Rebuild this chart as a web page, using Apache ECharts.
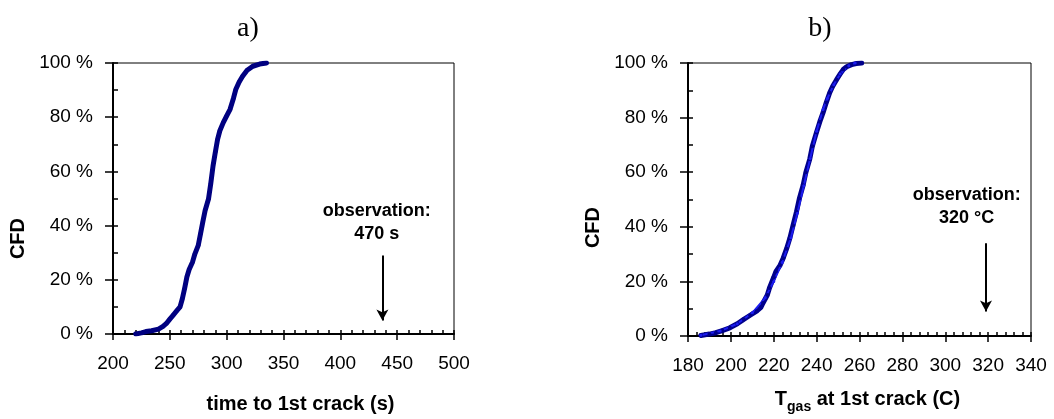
<!DOCTYPE html>
<html><head><meta charset="utf-8">
<script src="https://cdn.jsdelivr.net/npm/echarts@6/dist/echarts.min.js"></script>
<style>html,body{margin:0;padding:0;background:#fff}#c{width:1054px;height:419px}</style>
</head><body><div id="c"></div>
<script>
// Panel a: time to 1st crack (s) vs CFD (%)
const aTime = [220,225,229,234,240,244,247,250,253,256,259,261,263,265,267,270,272,275,277,279,281,284,286,288,290,292,294,297,300,303,306,308,311,314,318,323,329,335];
const aCfd  = [0,0.4,0.9,1.2,1.8,2.8,3.9,5.5,7,8.5,10,13,16.8,21,23.8,26.6,29.5,32.7,37,41.3,45.5,49.8,55.5,62,67,71.8,75,78,80.5,82.9,87,90.2,93,95.1,97.3,98.8,99.6,100];
// Panel b: Tgas at 1st crack (C) vs CFD (%) - two overlapping samples
const bTgas1 = [186,190,193,196,199.5,203,206,209,212,214,215,217,218,220,221,223,224.4,226,227.5,229,230.6,232,233.7,235,236.8,238,239.9,241.5,243,244.5,246.1,247.5,249.3,251,252.4,254,256.3,258.5,261];
const bCfd1  = [0.2,0.7,1.2,2,3,4.5,6.1,7.6,9.1,10.5,12.1,15,17.6,21.5,23.6,26,28.5,32,35.8,40.5,45.5,50.5,55.2,60,64.8,69.5,74.5,78.5,81.8,85.5,89.1,91.5,93.9,96,97.6,98.6,99.4,99.8,100];
const bTgas2 = [186,195,203,210,216,220,224,228,231,234,237,240,243,245,248,251,255,258];
const bCfd2  = [0.3,1.8,4.5,8.5,14,20,27,36,45,55,65,75,83,87,92,96,99,100];
// Observations
const obsA = {x: 437, yTop: 29, yBottom: 5, label: 'observation:\n470 s', labelX: 432, labelY: 41};
const obsB = {x: 319, yTop: 34, yBottom: 9, label: 'observation:\n320 °C', labelX: 310, labelY: 47.5};
const titles = ['a)', 'b)'];
const yTicks = {min: 0, max: 100, interval: 20};
const xTicksA = {min: 200, max: 500, interval: 50};
const xTicksB = {min: 180, max: 340, interval: 20};

const zip = (xs, ys) => xs.map((x, i) => [x, ys[i]]);
const F = 'Liberation Sans, Arial, sans-serif';

function xAxes(grid, t, name, nameStyle, nameGap) {
  return [
    {type: 'value', gridIndex: grid, position: 'bottom', min: t.min, max: t.max, interval: t.interval,
     axisLine: {show: true, onZero: false, lineStyle: {color: '#000', width: 2}},
     axisTick: {show: true, inside: false, length: 6, lineStyle: {color: '#000', width: 1.5}},
     axisLabel: {margin: 20, color: '#000', fontSize: 19, fontFamily: F},
     splitLine: {show: false},
     name: name, nameLocation: 'middle', nameGap: nameGap, nameTextStyle: nameStyle},
    {type: 'value', gridIndex: grid, position: 'bottom', min: t.min, max: t.max, interval: t.interval,
     axisLine: {show: false, onZero: false},
     axisTick: {show: true, inside: true, length: 4, lineStyle: {color: '#000', width: 1.5}},
     minorTick: {show: true, splitNumber: 5, length: 4, lineStyle: {color: '#000', width: 1.5}},
     axisLabel: {show: false}, splitLine: {show: false}}
  ];
}
function yAxes(grid) {
  return [
    {type: 'value', gridIndex: grid, position: 'left', min: yTicks.min, max: yTicks.max, interval: yTicks.interval,
     axisLine: {show: true, onZero: false, lineStyle: {color: '#000', width: 2}},
     axisTick: {show: true, inside: false, length: 8, lineStyle: {color: '#000', width: 1.5}},
     axisLabel: {margin: 20, color: '#000', fontSize: 19, fontFamily: F, formatter: '{value} %'},
     splitLine: {show: false}},
    {type: 'value', gridIndex: grid, position: 'left', min: yTicks.min, max: yTicks.max, interval: yTicks.interval,
     axisLine: {show: false, onZero: false},
     axisTick: {show: true, inside: true, length: 5, lineStyle: {color: '#000', width: 1.5}},
     minorTick: {show: true, splitNumber: 2, length: 5, lineStyle: {color: '#000', width: 1.5}},
     axisLabel: {show: false}, splitLine: {show: false}}
  ];
}
function curve(data, xi, yi, color, w, sym) {
  return {type: 'line', xAxisIndex: xi, yAxisIndex: yi, data: data, smooth: false,
    symbol: 'circle', symbolSize: sym, showSymbol: true,
    itemStyle: {color: color}, lineStyle: {color: color, width: w, join: 'round', cap: 'round'}, z: 3};
}
function arrow(obs, xi, yi) {
  return {type: 'line', xAxisIndex: xi, yAxisIndex: yi, data: [], silent: true,
    markLine: {silent: true, symbol: ['none', 'arrow'], symbolSize: [9, 11],
      lineStyle: {color: '#000', width: 2, type: 'solid'}, label: {show: false},
      data: [[{coord: [obs.x, obs.yTop]}, {coord: [obs.x, obs.yBottom]}]]}};
}
function note(obs, xi, yi) {
  return {type: 'scatter', xAxisIndex: xi, yAxisIndex: yi, symbolSize: 0, silent: true,
    data: [[obs.labelX, obs.labelY]],
    label: {show: true, position: 'inside', formatter: obs.label, color: '#000', opacity: 1,
      textBorderWidth: 0, textShadowBlur: 0,
      fontSize: 18, fontWeight: 'bold', fontFamily: F, lineHeight: 23, align: 'center'}};
}

const nameA = {color: '#000', fontSize: 20, fontWeight: 'bold', fontFamily: F, padding: [0, 0, 0, 34]};
const nameB = {color: '#000', fontSize: 20, fontWeight: 'bold', fontFamily: F, padding: [0, 0, 0, 16],
  rich: {m: {fontSize: 20, fontWeight: 'bold', fontFamily: F, color: '#000', verticalAlign: 'bottom', padding: [0, 0, 5, 0]},
         s: {fontSize: 14, fontWeight: 'bold', fontFamily: F, color: '#000', verticalAlign: 'bottom'}}};

const option = {
  animation: false,
  backgroundColor: '#fff',
  title: [
    {text: titles[0], left: 243, top: 10, textAlign: 'center', textStyle: {fontFamily: 'Liberation Serif, Times New Roman, serif', fontSize: 28, fontWeight: 'normal', color: '#000'}},
    {text: titles[1], left: 815, top: 10, textAlign: 'center', textStyle: {fontFamily: 'Liberation Serif, Times New Roman, serif', fontSize: 28, fontWeight: 'normal', color: '#000'}}
  ],
  grid: [
    {left: 113, top: 63, width: 341, height: 273, show: true, borderColor: '#000', borderWidth: 1, backgroundColor: 'transparent'},
    {left: 688, top: 63, width: 343, height: 275, show: true, borderColor: '#000', borderWidth: 1, backgroundColor: 'transparent'}
  ],
  xAxis: [
    ...xAxes(0, xTicksA, 'time to 1st crack (s)', nameA, 60),
    ...xAxes(1, xTicksB, '{s|}{m|T}{s|gas}{m| at 1st crack (C)}', nameB, 53)
  ],
  yAxis: [...yAxes(0), ...yAxes(1)],
  graphic: [
    {type: 'text', left: 8, top: 218, rotation: Math.PI / 2,
     style: {text: 'CFD', fill: '#000', font: 'bold 20px ' + F}},
    {type: 'text', left: 583, top: 207, rotation: Math.PI / 2,
     style: {text: 'CFD', fill: '#000', font: 'bold 20px ' + F}}
  ],
  series: [
    curve(zip(aTime, aCfd), 0, 0, '#000080', 5, 4),
    arrow(obsA, 0, 0),
    note(obsA, 0, 0),
    curve(zip(bTgas1, bCfd1), 2, 2, '#00008b', 5, 4),
    curve(zip(bTgas2, bCfd2), 2, 2, '#1c1cf0', 2, 3),
    arrow(obsB, 2, 2),
    note(obsB, 2, 2)
  ]
};
const chart = echarts.init(document.getElementById('c'), null, {renderer: 'canvas'});
chart.setOption(option);
</script></body></html>
